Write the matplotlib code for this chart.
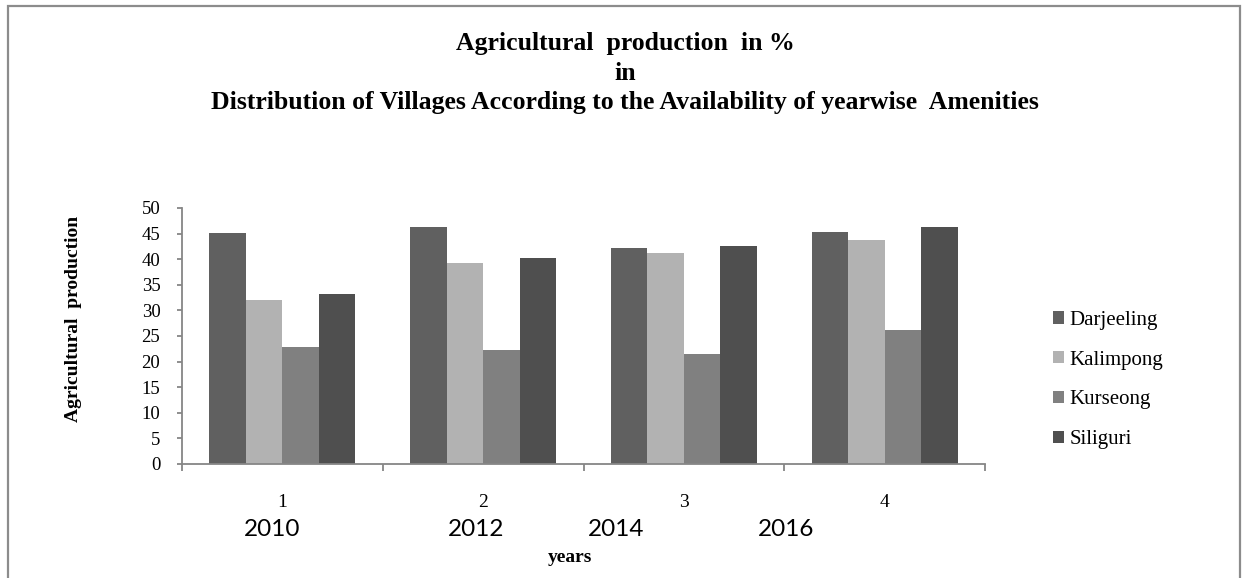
import numpy as np
import matplotlib
matplotlib.use("Agg")
from matplotlib import pyplot as plt
from matplotlib.patches import Rectangle

# valores
grupos = [1, 2, 3, 4]
anos = ["2010", "2012", "2014", "2016"]
darjeeling = [45.1, 46.2, 42.2, 45.3]
kalimpong = [32.0, 39.3, 41.2, 43.8]
kurseong = [22.9, 22.2, 21.4, 26.2]
siliguri = [33.3, 40.2, 42.5, 46.2]

series = [("Darjeeling", darjeeling, "#606060"),
          ("Kalimpong", kalimpong, "#b2b2b2"),
          ("Kurseong", kurseong, "#808080"),
          ("Siliguri", siliguri, "#4f4f4f")]

W, H = 1242, 578
serif = ["Liberation Serif", "DejaVu Serif"]
eixo_cor = "#868686"

fig = plt.figure(figsize=(W / 100, H / 100), dpi=100)
fig.patch.set_facecolor("white")

# moldura externa
fig.patches.append(Rectangle((8 / W, -0.01), 1232 / W, (H - 6) / H + 0.01,
                             transform=fig.transFigure, fill=False,
                             edgecolor="#8c8c8c", linewidth=1.6))

ax = fig.add_axes([182 / W, (H - 464) / H, 803 / W, 256 / H])

largura = 1 / 5.5
x = np.array(grupos, dtype=float)
for i, (nome, valores, cor) in enumerate(series):
    ax.bar(x + (i - 1.5) * largura, valores, largura, color=cor, label=nome)

ax.set_xlim(0.5, 4.5)
ax.set_ylim(0, 50)
ax.set_yticks(range(0, 51, 5))

# ticks nas divisas das categorias, rotulos no centro
ax.set_xticks(np.arange(0.5, 4.6, 1.0))
ax.set_xticklabels([])
ax.set_xticks(x, minor=True)
ax.set_xticklabels([str(g) for g in grupos], minor=True)
ax.tick_params(axis="x", which="major", length=5, color=eixo_cor, width=1.3)
ax.tick_params(axis="x", which="minor", length=0, pad=21.5, labelsize=14)
ax.tick_params(axis="y", length=3.6, color=eixo_cor, width=1.3, pad=12,
               labelsize=13.5)
for lbl in ax.get_xticklabels(minor=True) + ax.get_yticklabels():
    lbl.set_family(serif)

for lado in ["top", "right"]:
    ax.spines[lado].set_visible(False)
for lado in ["left", "bottom"]:
    ax.spines[lado].set_color(eixo_cor)
    ax.spines[lado].set_linewidth(1.3)

ax.set_ylabel("Agricultural  production", family=serif, fontweight="bold",
              fontsize=14, va="center")
ax.yaxis.set_label_coords((73 - 182) / 803, 0.568)

# anos escritos abaixo
year_label_x = [272, 476, 616, 786]
for xp, ano in zip(year_label_x, anos):
    fig.text(xp / W, 1 - 529 / H, ano, ha="center", va="center",
             family=["Lato", "DejaVu Sans"], fontsize=17.5)

fig.text(570 / W, 1 - 558 / H, "years", ha="center", va="center",
         family=serif, fontweight="bold", fontsize=14)

titulo = ["Agricultural  production  in %",
          "in",
          "Distribution of Villages According to the Availability of yearwise  Amenities"]
for linha, y in zip(titulo, [50, 80, 109]):
    fig.text(625 / W, 1 - y / H, linha, ha="center", va="baseline",
             family=serif, fontweight="bold", fontsize=18.5)

fig.legend(loc="center left", bbox_to_anchor=(1053 / W, 1 - 380 / H),
           frameon=False, prop={"family": serif, "size": 15},
           handlelength=0.55, handleheight=0.55, handletextpad=0.25,
           labelspacing=1.0, borderpad=0, borderaxespad=0)

plt.savefig("out.png", dpi=100)
